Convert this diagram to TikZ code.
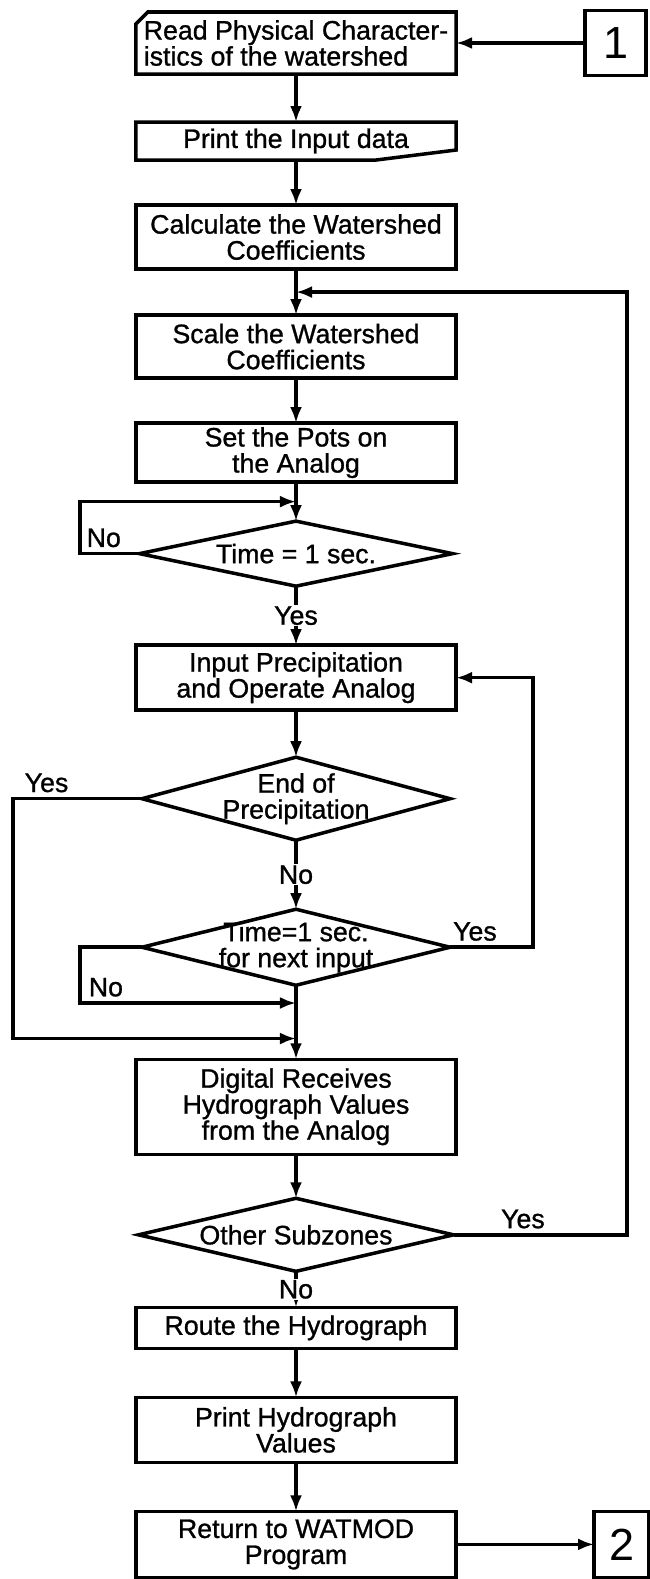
\documentclass[tikz,border=0pt]{standalone}
\usepackage{fontspec}
\setmainfont{Liberation Sans}[UprightFeatures={FakeBold=1}]
\newfontfamily\connfont{Liberation Sans}
\usetikzlibrary{positioning,shapes.geometric,arrows.meta}

\begin{document}
\begin{tikzpicture}[x=0.025cm, y=-0.025cm, line width=2.5pt,
	>={Latex[length=0.4cm,width=0.3cm]},
	font=\fontsize{19pt}{18.5pt}\selectfont,
	proc/.style = {draw, rectangle, minimum width=8cm, inner sep=0pt, outer sep=0pt, align=center},
	io/.style = {proc, draw=none},
	decide/.style = {draw, diamond, inner sep=0pt, outer sep=0pt},
	conn/.style = {draw, rectangle, minimum height=1.625cm, inner sep=0pt, outer sep=0pt, font=\connfont\fontsize{32pt}{32pt}\selectfont},
	mid/.style = {fill=white, inner sep=1pt}]
	\useasboundingbox (0,0) rectangle (650,1579);
	\node[io, minimum height=1.55cm, align=left] (read) at (296,43) {Read Physical Character-\\istics of the watershed};
	\node[io, minimum height=0.95cm] (print) [below=1.2cm of read] {Print the Input data};
	\node[proc, minimum height=1.6cm] (calc) [below=1.125cm of print] {Calculate the Watershed\\Coefficients};
	\node[proc, minimum height=1.575cm] (scale) [below=1.15cm of calc] {Scale the Watershed\\Coefficients};
	\node[proc, minimum height=1.475cm] (pots) [below=1.125cm of scale] {Set the Pots on\\the Analog};
	\node[decide, minimum width=7.825cm, minimum height=1.625cm, label={center:Time = 1 sec.}] (d1) [below=0.975cm of pots] {};
	\node[proc, minimum height=1.625cm] (input) [below=1.475cm of d1] {Input Precipitation\\and Operate Analog};
	\node[decide, minimum width=7.7cm, minimum height=2.075cm, label={[align=center]center:{End of\\Precipitation}}] (d2) [below=1.175cm of input] {};
	\node[decide, minimum width=7.7cm, minimum height=1.9cm, label={[align=center]center:{Time=1 sec.\\for next input}}] (d3) [below=1.725cm of d2] {};
	\node[proc, minimum height=2.375cm] (digital) [below=1.85cm of d3] {Digital Receives\\Hydrograph Values\\from the Analog};
	\node[decide, minimum width=7.875cm, minimum height=1.825cm, label={center:Other Subzones}] (d4) [below=1.1cm of digital] {};
	\node[proc, minimum height=1.025cm] (route) [below=0.9cm of d4] {Route the Hydrograph};
	\node[proc, minimum height=1.625cm] (phyd) [below=1.225cm of route] {Print Hydrograph\\Values};
	\node[proc, minimum height=1.65cm] (ret) [below=1.225cm of phyd] {Return to WATMOD\\Program};
	\node[conn, minimum width=1.525cm] (one) [right=3.225cm of read] {1};
	\node[conn, minimum width=1.375cm, minimum height=1.65cm] (two) [right=3.45cm of ret] {2};
	% card and printout outlines
	\draw ([xshift=0.3cm]read.north west) -- (read.north east) -- (read.south east) -- (read.south west) -- ([yshift=-0.3cm]read.north west) -- cycle;
	\draw (print.north west) -- (print.north east) -- ([yshift=0.25cm]print.south east) -- ([xshift=-2cm]print.south east) -- (print.south west) -- cycle;
	% junctions and side lines
	\path (calc.south) -- (scale.north) coordinate[pos=0.5] (back);
	\path (pots.south) -- (d1.north) coordinate[pos=0.5] (wait);
	\path (d3.south) -- (digital.north) coordinate[pos=0.24] (join1) coordinate[pos=0.72] (join2);
	\coordinate (farleft) at (13,0);
	\coordinate (lside) at (80,0);
	\coordinate (mside) at (533,0);
	\coordinate (rside) at (627,0);
	\draw[->] (one) -- (read);
	\draw[->] (read) -- (print);
	\draw[->] (print) -- (calc);
	\draw[->] (calc) -- (scale);
	\draw[->] (scale) -- (pots);
	\draw[->] (pots) -- (d1);
	\draw[->] (d1) -- node[mid] {Yes} (input);
	\draw[->] (input) -- (d2);
	\draw[->] (d2) -- node[mid] {No} (d3);
	\draw[->] (d3) -- (digital);
	\draw[->] (digital) -- (d4);
	\draw[->] (d4) -- node[mid] {No} (route);
	\draw[->] (route) -- (phyd);
	\draw[->] (phyd) -- (ret);
	\draw[->] (ret) -- (two);
	\draw[->] (d1.west) -- node[above, pos=0.6] {No} (d1.west -| lside) -- (lside |- wait) -- (wait);
	\draw[->] (d2.west) -- node[above, pos=0.74] {Yes} (d2.west -| farleft) -- (farleft |- join2) -- (join2);
	\draw[->] (d3.east) -- node[above, pos=0.3] {Yes} (d3.east -| mside) -- (mside |- input.east) -- (input.east);
	\draw[->] (d3.west) -- (d3.west -| lside) -- (lside |- join1) -- node[above, pos=0.12] {No} (join1);
	\draw[->] (d4.east) -- node[above, pos=0.4] {Yes} (d4.east -| rside) -- (rside |- back) -- (back);
\end{tikzpicture}
\end{document}
